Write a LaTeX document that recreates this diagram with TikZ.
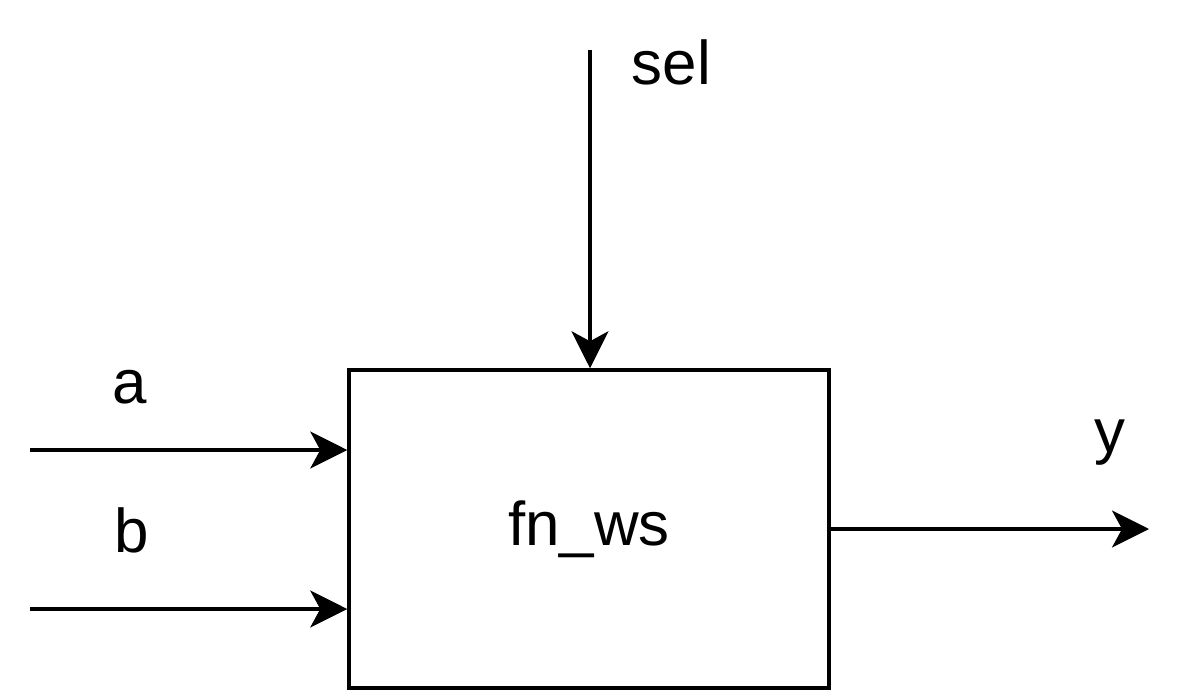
\documentclass[tikz,border=0pt]{standalone}
\usepackage{fontspec}
\setmainfont{Liberation Sans}
\usetikzlibrary{arrows.meta,positioning,calc}

\begin{document}
\begin{tikzpicture}[x=1cm,y=1cm,line width=0.035cm,
  sig/.style={-{Stealth[length=0.37cm,width=0.37cm,inset=0.1cm]}},
  lbl/.style={anchor=base,inner sep=0pt,font=\fontsize{17.6}{21}\selectfont}]
\useasboundingbox (0,0) rectangle (11.84,6.92);
\node[draw,minimum width=4.8cm,minimum height=3.18cm,font=\fontsize{17.6}{21}\selectfont] (fn) at (5.89,1.63) {fn\_ws};
\coordinate (ain) at (0.30,2.42);
\coordinate (bin) at (0.30,0.83);
\coordinate (selin) at (5.90,6.42);
\coordinate (yout) at (11.49,0);
\draw[sig] (ain) -- (ain -| fn.west);
\draw[sig] (bin) -- (bin -| fn.west);
\draw[sig] (selin) -- (selin |- fn.north);
\draw[sig] (fn.east) -- (fn.east -| yout);
\node[lbl] (alab) at (1.30,2.89) {a};
\node[lbl] (blab) at (1.32,1.40) {b};
\node[lbl,anchor=base west] (sellab) at (6.30,6.08) {sel};
\node[lbl] (ylab) at (11.10,2.40) {y};
\end{tikzpicture}
\end{document}
